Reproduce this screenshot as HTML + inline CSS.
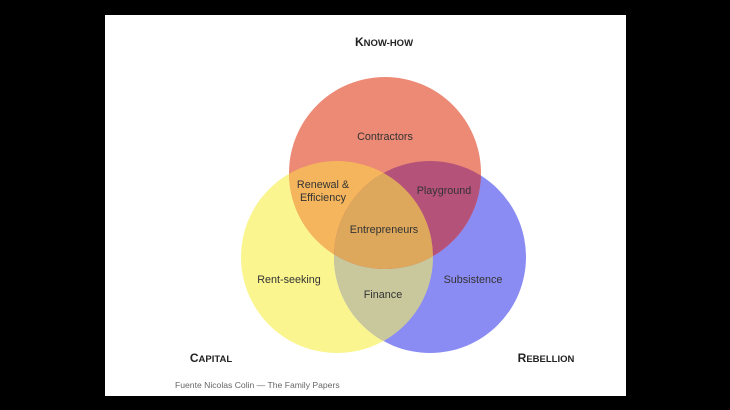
<!DOCTYPE html>
<html><head><style>
html,body{margin:0;padding:0;background:#000;width:730px;height:410px;overflow:hidden}
svg{display:block}
text{font-family:"Liberation Sans",sans-serif}
</style></head><body>
<svg width="730" height="410" viewBox="0 0 730 410">
<defs>
<clipPath id="cy"><circle cx="337" cy="257" r="96"/></clipPath>
<clipPath id="cb"><circle cx="430" cy="257" r="96"/></clipPath>
<clipPath id="cr"><circle cx="385" cy="173" r="96"/></clipPath>
</defs>
<rect x="105" y="15" width="521" height="381" fill="#fff"/>
<circle cx="337" cy="257" r="96" fill="#faf58f"/>
<circle cx="430" cy="257" r="96" fill="#8a8cf4"/>
<circle cx="385" cy="173" r="96" fill="#ec8a76"/>
<circle cx="430" cy="257" r="96" fill="#c9c89c" clip-path="url(#cy)"/>
<g clip-path="url(#cr)">
<circle cx="337" cy="257" r="96" fill="#f4b55c"/>
<circle cx="430" cy="257" r="96" fill="#b5527a"/>
<g clip-path="url(#cy)"><circle cx="430" cy="257" r="96" fill="#dda85c"/></g>
</g>
<g font-size="10.8" fill="#333" text-anchor="middle">
<text x="385" y="140">Contractors</text>
<text x="323" y="188">Renewal &amp;</text>
<text x="323" y="201">Efficiency</text>
<text x="444" y="194">Playground</text>
<text x="384" y="233">Entrepreneurs</text>
<text x="289" y="283">Rent-seeking</text>
<text x="383" y="298">Finance</text>
<text x="473" y="283">Subsistence</text>
</g>
<g font-weight="bold" fill="#222" text-anchor="middle">
<text x="384" y="46" font-size="12">K<tspan font-size="9.5">NOW-HOW</tspan></text>
<text x="211" y="362" font-size="12">C<tspan font-size="9.5">APITAL</tspan></text>
<text x="546" y="362" font-size="12">R<tspan font-size="9.5">EBELLION</tspan></text>
</g>
<text x="175" y="388" font-size="8.6" fill="#666">Fuente Nicolas Colin — The Family Papers</text>
</svg>
</body></html>
